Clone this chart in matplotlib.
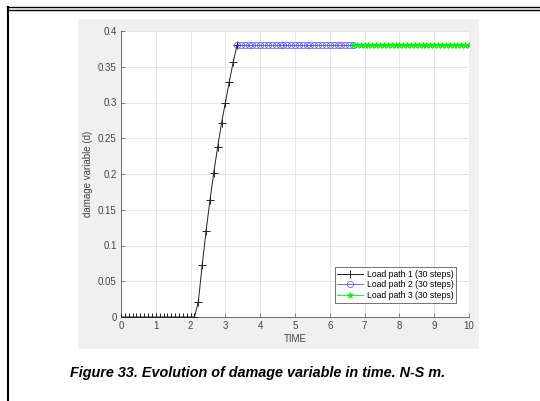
import matplotlib
matplotlib.use("Agg")
import matplotlib.pyplot as plt
import numpy as np
from matplotlib.lines import Line2D
from matplotlib.patches import Rectangle

plt.rcParams["font.family"] = ["Liberation Sans", "DejaVu Sans"]

W, H = 540, 401

# load paths: 30 steps each
N_STEPS = 30
path1_span = (0.0, 3.333)
path2_span = (3.333, 6.667)
path3_span = (6.667, 10.0)

damage_path1 = [0.0] * 20 + [0.021, 0.073, 0.120, 0.163, 0.202, 0.238,
                             0.271, 0.300, 0.329, 0.356, 0.380]
damage_path2 = [0.380] * (N_STEPS + 1)
damage_path3 = [0.380] * (N_STEPS + 1)

labels = ["Load path 1 (30 steps)", "Load path 2 (30 steps)", "Load path 3 (30 steps)"]
x_ticks = list(range(0, 11))
y_ticks = [0, 0.05, 0.1, 0.15, 0.2, 0.25, 0.3, 0.35, 0.4]
y_ticklabels = ["0", "0.05", "0.1", "0.15", "0.2", "0.25", "0.3", "0.35", "0.4"]
caption = "Figure 33. Evolution of damage variable in time. N-S m."


def px(x, y):
    """pixel (from top-left) -> figure fraction"""
    return x / W, 1 - y / H


fig = plt.figure(figsize=(W / 100, H / 100), dpi=100, facecolor="white")

# page borders
fig.add_artist(Line2D([7 / W, 1], [1 - 7 / H] * 2, color="black", lw=1.0))
fig.add_artist(Line2D([7 / W, 1], [1 - 9.5 / H] * 2, color="black", lw=1.0))
fig.add_artist(Line2D([7.5 / W] * 2, [0, 1 - 7 / H], color="black", lw=1.5))

# matlab figure background
x0, y0 = px(78, 349)
fig.add_artist(Rectangle((x0, y0), (479 - 78) / W, (349 - 19) / H,
                         transform=fig.transFigure, facecolor="#f0f0f0",
                         edgecolor="none", zorder=0))

l, b = px(121, 317)
r, t = px(469, 31)
ax = fig.add_axes([l, b, r - l, t - b])
ax.set_facecolor("white")

t1 = np.linspace(*path1_span, N_STEPS + 1)
t2 = np.linspace(*path2_span, N_STEPS + 1)
t3 = np.linspace(*path3_span, N_STEPS + 1)

ax.plot(t1, damage_path1, color="#222222", lw=0.7, marker="+", ms=6,
        mew=0.7, label=labels[0], zorder=3)
ax.plot(t2, damage_path2, color="#3333ff", lw=0.7, marker="o", ms=4.5,
        mew=0.6, mfc="none", alpha=0.75, label=labels[1], zorder=3)
ax.plot(t3, damage_path3, color="#00ee00", lw=0.7, marker="*", ms=5,
        mew=0.6, alpha=0.85, label=labels[2], zorder=3)

ax.set_xlim(0, 10)
ax.set_ylim(0, 0.4)
ax.set_xticks(x_ticks)
ax.set_yticks(y_ticks)
ax.set_yticklabels(y_ticklabels)
ax.grid(True, color="#e6e6e6", lw=0.7)
ax.set_axisbelow(True)
for side in ("top", "right"):
    ax.spines[side].set_visible(False)
for side in ("left", "bottom"):
    ax.spines[side].set_color("#555555")
    ax.spines[side].set_linewidth(0.6)
ax.tick_params(direction="in", length=3, width=0.5, colors="#555555",
               labelsize=7, labelcolor="#444444", pad=3)
ax.set_xlabel("TIME", fontsize=7, color="#444444", labelpad=2)
ax.set_ylabel("damage variable (d)", fontsize=7, color="#444444", labelpad=4)

leg = ax.legend(loc="lower right", bbox_to_anchor=(0.975, 0.035), fontsize=6.2,
                frameon=True, fancybox=False, handlelength=3.0,
                borderpad=0.3, labelspacing=0.2, handletextpad=0.4)
leg.get_frame().set_edgecolor("#333333")
leg.get_frame().set_linewidth(0.6)

cx, cy = px(258, 373)
fig.text(cx, cy, caption, ha="center", va="center", fontsize=10.4,
         fontweight="bold", style="italic", color="black")

fig.savefig("out.png", dpi=100, facecolor="white")
